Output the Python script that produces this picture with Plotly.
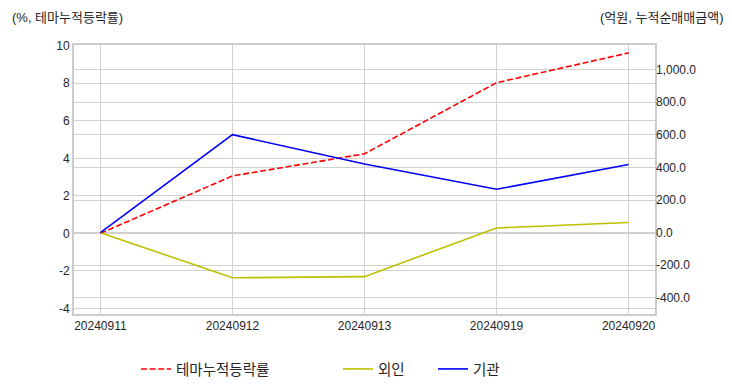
import plotly.graph_objects as go

dates = ["20240911", "20240912", "20240913", "20240919", "20240920"]
theme_return = [0.0, 3.06, 4.24, 8.03, 9.62]      # % (left axis)
foreign = [0.0, -277.0, -270.0, 29.0, 62.0]       # 억원 (right axis)
institution = [0.0, 601.0, 421.0, 266.0, 418.0]   # 억원 (right axis)

left_tickvals = [-4, -2, 0, 2, 4, 6, 8, 10]
left_ticktext = ["-4", "-2", "0", "2", "4", "6", "8", "10"]
right_tickvals = [-400, -200, 0, 200, 400, 600, 800, 1000]
right_ticktext = ["-400.0", "-200.0", "0.0", "200.0", "400.0", "600.0", "800.0", "1,000.0"]

FONT = "Liberation Sans, Arial, Noto Sans CJK KR, sans-serif"
TXT = "#262626"
GRID = "#d0d0d0"
FRAME = "#cccccc"

# page body has an 8px margin, so the figure is drawn 8px smaller and offset
W, H = 724, 384
L, R, T, B = 66, 77, 37, 78
PW, PH = W - L - R, H - T - B

fig = go.Figure()
fig.add_trace(go.Scatter(x=dates, y=theme_return, name="테마누적등락률", mode="lines",
                         line=dict(color="#ff0000", width=1.6, dash="6px,2.6px"),
                         yaxis="y", legendwidth=157))
fig.add_trace(go.Scatter(x=dates, y=foreign, name="외인", mode="lines",
                         line=dict(color="#bfbf00", width=1.6),
                         yaxis="y2", legendwidth=50))
fig.add_trace(go.Scatter(x=dates, y=institution, name="기관", mode="lines",
                         line=dict(color="#0000ff", width=1.6),
                         yaxis="y2"))

fig.update_layout(
    width=W, height=H,
    margin=dict(l=L, r=R, t=T, b=B),
    paper_bgcolor="white", plot_bgcolor="white",
    font=dict(family=FONT, size=12, color=TXT),
    showlegend=True,
    legend=dict(orientation="h", xref="container", yref="container",
                x=128 / W, y=1 - 361 / H, xanchor="left", yanchor="middle",
                font=dict(size=14.5, color=TXT), bgcolor="rgba(0,0,0,0)"),
    xaxis=dict(type="category", range=[-0.2, 4.2], showgrid=True, gridcolor=GRID,
               gridwidth=1, showline=True, linecolor=FRAME, linewidth=2, mirror=True,
               ticks="", zeroline=False, tickfont=dict(size=12, color=TXT)),
    yaxis=dict(range=[-4.3, 10.04], tickvals=left_tickvals, ticktext=left_ticktext,
               showgrid=True, gridcolor=GRID, gridwidth=1, zeroline=False,
               showline=True, linecolor=FRAME, linewidth=2, mirror=True,
               ticks="", tickfont=dict(size=12, color=TXT)),
    yaxis2=dict(range=[-499, 1151], tickvals=right_tickvals, ticktext=right_ticktext,
                overlaying="y", side="right", showgrid=True, gridcolor=GRID,
                gridwidth=1, zeroline=False, showline=False, ticks="",
                tickfont=dict(size=12, color=TXT)),
    annotations=[
        dict(text="(%, 테마누적등락률)", xref="paper", yref="paper", x=(2 - L) / PW,
             y=1 + (T - 9) / PH, xanchor="left", yanchor="middle", showarrow=False,
             font=dict(size=13, color=TXT)),
        dict(text="(억원, 누적순매매금액)", xref="paper", yref="paper", x=(718 - L) / PW,
             y=1 + (T - 9) / PH, xanchor="right", yanchor="middle", showarrow=False,
             font=dict(size=13, color=TXT)),
    ],
)

fig.write_html("out.html")
